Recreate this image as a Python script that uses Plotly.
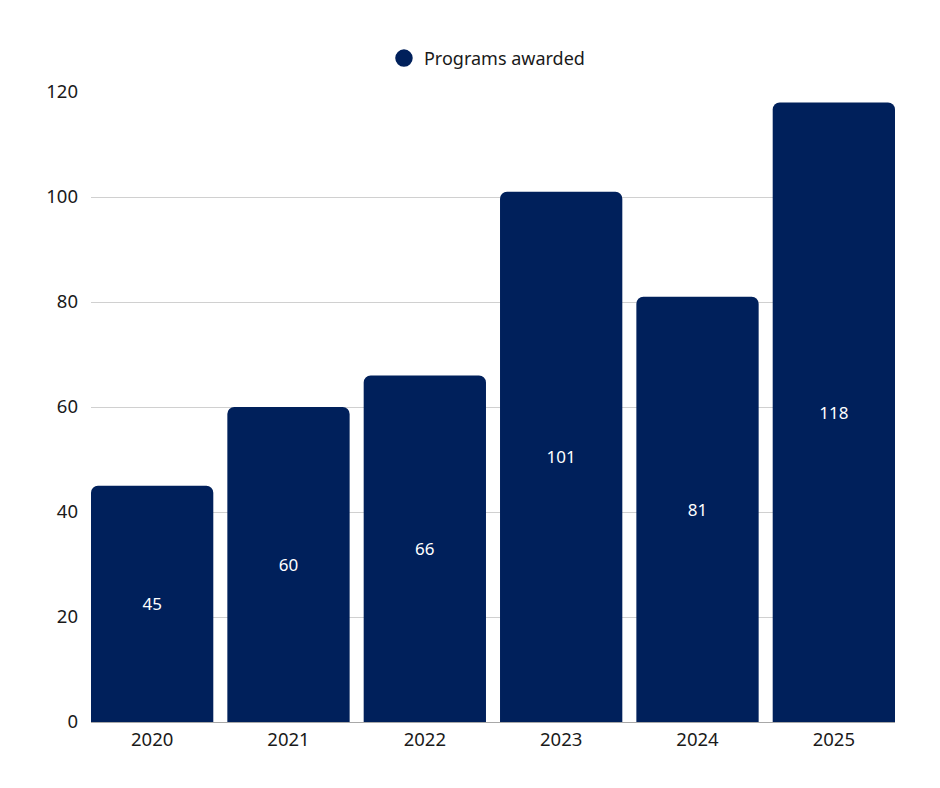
import plotly.graph_objects as go

years = ["2020", "2021", "2022", "2023", "2024", "2025"]
programs_awarded = [45, 60, 66, 101, 81, 118]
y_ticks = [0, 20, 40, 60, 80, 100, 120]
series_name = "Programs awarded"
bar_color = "#00205B"

fig = go.Figure()
fig.add_trace(go.Bar(
    x=years,
    y=programs_awarded,
    name=series_name,
    marker=dict(color=bar_color, cornerradius=7, line=dict(width=0)),
    text=[str(v) for v in programs_awarded],
    textposition="inside",
    insidetextanchor="middle",
    textangle=0,
    textfont=dict(color="#FFFFFF", size=17, family="Noto Sans"),
    constraintext="none",
    showlegend=False,
))
# legend entry with circular marker
fig.add_trace(go.Scatter(
    x=[None], y=[None],
    mode="markers",
    name=series_name,
    marker=dict(color=bar_color, size=16, symbol="circle",
                line=dict(color=bar_color, width=1.5)),
    showlegend=True,
))

fig.update_layout(
    width=940,
    height=788,
    margin=dict(l=83, r=53, t=84, b=74),
    paper_bgcolor="#FFFFFF",
    plot_bgcolor="#FFFFFF",
    bargap=0.103,
    font=dict(family="Noto Sans", size=18, color="#1A1A1A"),
    legend=dict(
        orientation="h",
        x=0.4925, xanchor="center",
        y=1.024, yanchor="bottom",
        font=dict(size=18, color="#1A1A1A"),
        itemsizing="trace",
        itemwidth=30,
    ),
    xaxis=dict(
        range=[-0.4485, 5.4485],
        showgrid=False,
        showline=True,
        linecolor="#A8A8A8",
        linewidth=1,
        ticks="",
        ticklabelstandoff=1,
        tickfont=dict(size=18.5, color="#1A1A1A"),
    ),
    yaxis=dict(
        range=[0, 120],
        tickvals=y_ticks,
        showgrid=True,
        gridcolor="#D0D0D0",
        gridwidth=1,
        zeroline=False,
        showline=False,
        ticks="",
        ticklabelstandoff=12,
        tickfont=dict(size=18.5, color="#1A1A1A"),
    ),
)

fig.write_html("out.html")
